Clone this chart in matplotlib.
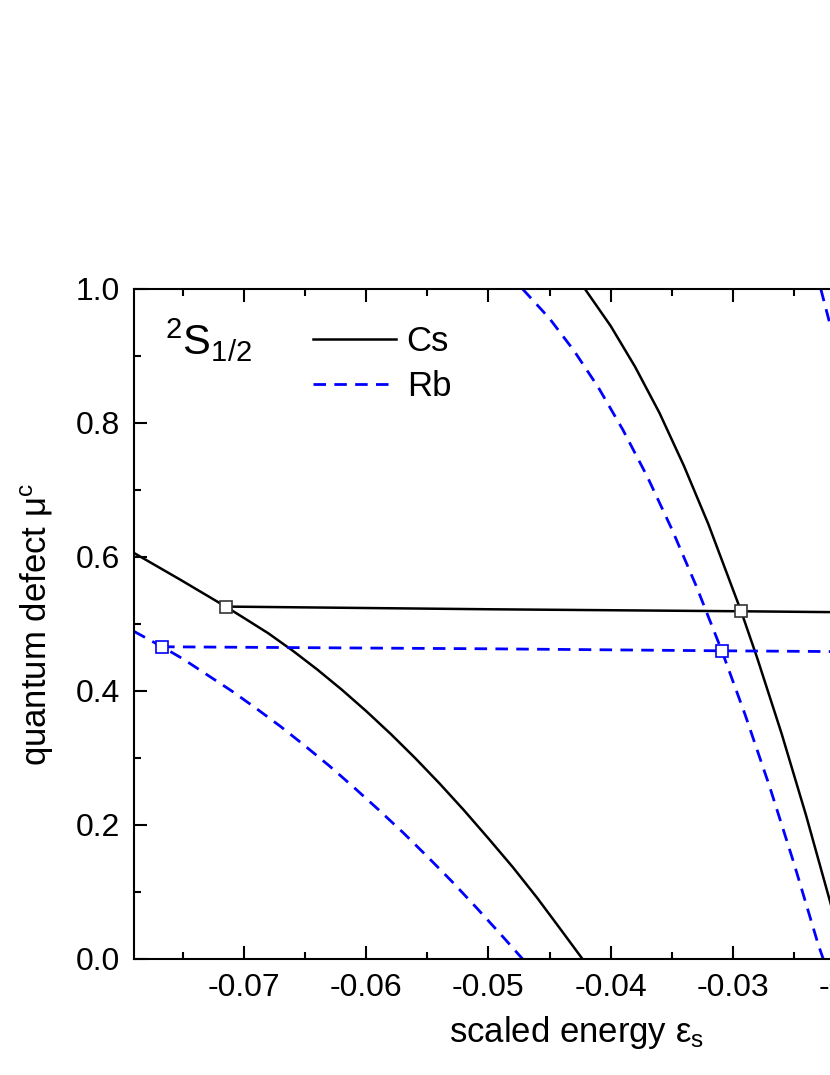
import matplotlib
matplotlib.use('Agg')
import matplotlib.pyplot as plt

plt.rcParams['font.family'] = ['Liberation Sans', 'DejaVu Sans']
plt.rcParams['mathtext.fontset'] = 'custom'
plt.rcParams['mathtext.rm'] = 'Liberation Sans'
plt.rcParams['mathtext.it'] = 'Liberation Sans:italic'
plt.rcParams['axes.unicode_minus'] = False
plt.rcParams['lines.scale_dashes'] = False

# Cs branches (scaled energy, quantum defect)
cs_a_x = [-0.079, -0.0752, -0.0715, -0.070, -0.068, -0.066, -0.064, -0.062, -0.060, -0.058, -0.056,
          -0.054, -0.052, -0.050, -0.048, -0.046, -0.044, -0.0423]
cs_a_mu = [0.606, 0.566, 0.526, 0.509, 0.486, 0.460, 0.432, 0.402, 0.370, 0.336, 0.300,
           0.262, 0.222, 0.180, 0.137, 0.091, 0.042, 0.0]
cs_b_x = [-0.0421, -0.040, -0.038, -0.036, -0.034, -0.032, -0.0293, -0.028, -0.026, -0.024, -0.022, -0.0208]
cs_b_mu = [1.0, 0.945, 0.884, 0.815, 0.736, 0.649, 0.518, 0.449, 0.336, 0.214, 0.083, 0.0]
cs_flat_x = [-0.0715, -0.050, -0.0293, -0.0065]
cs_flat_mu = [0.526, 0.522, 0.519, 0.515]
cs_mark_x = [-0.0715, -0.0293]
cs_mark_mu = [0.526, 0.519]

# Rb branches
rb_a_x = [-0.079, -0.0767, -0.075, -0.073, -0.071, -0.069, -0.067, -0.065, -0.063, -0.061, -0.059,
          -0.057, -0.055, -0.053, -0.051, -0.049, -0.0472]
rb_a_mu = [0.489, 0.466, 0.448, 0.424, 0.400, 0.374, 0.347, 0.318, 0.288, 0.256, 0.223,
           0.189, 0.153, 0.116, 0.077, 0.037, 0.0]
rb_b_x = [-0.0472, -0.045, -0.043, -0.041, -0.039, -0.037, -0.035, -0.033, -0.0309, -0.029, -0.027,
          -0.025, -0.023, -0.0226]
rb_b_mu = [1.0, 0.956, 0.908, 0.853, 0.790, 0.720, 0.642, 0.557, 0.460, 0.365, 0.258,
           0.143, 0.021, 0.0]
rb_c_x = [-0.0228, -0.0221, -0.0212, -0.0200]
rb_c_mu = [1.0, 0.951, 0.89, 0.81]
rb_flat_x = [-0.0767, -0.050, -0.0309, -0.0065]
rb_flat_mu = [0.466, 0.463, 0.460, 0.457]
rb_mark_x = [-0.0767, -0.0309]
rb_mark_mu = [0.466, 0.460]

fig = plt.figure(figsize=(8.3, 10.75), dpi=100)
ax = fig.add_axes([134 / 830, 116 / 1075, 886 / 830, 670 / 1075])

blk = dict(color='black', lw=1.8)
blu = dict(color='#0000ff', lw=2.0, dashes=(9, 6))

ax.plot(cs_a_x, cs_a_mu, label='Cs', **blk)
ax.plot(cs_b_x, cs_b_mu, **blk)
ax.plot(cs_flat_x, cs_flat_mu, **blk)
ax.plot(rb_a_x, rb_a_mu, label='Rb', **blu)
ax.plot(rb_b_x, rb_b_mu, **blu)
ax.plot(rb_c_x, rb_c_mu, **blu)
ax.plot(rb_flat_x, rb_flat_mu, **blu)

ax.plot(cs_mark_x, cs_mark_mu, ls='none', marker='s', ms=9, mfc='white', mec='#333333', mew=1.2, zorder=5)
ax.plot(rb_mark_x, rb_mark_mu, ls='none', marker='s', ms=9, mfc='white', mec='#0000ff', mew=1.2, zorder=5)

ax.set_xlim(-0.079, -0.0065)
ax.set_ylim(0, 1.0)
ax.set_xticks([-0.07, -0.06, -0.05, -0.04, -0.03, -0.02, -0.01])
ax.set_xticks([-0.075, -0.065, -0.055, -0.045, -0.035, -0.025, -0.015], minor=True)
ax.set_yticks([0.0, 0.2, 0.4, 0.6, 0.8, 1.0])
ax.set_yticks([0.1, 0.3, 0.5, 0.7, 0.9], minor=True)
ax.set_xticklabels(['-0.07', '-0.06', '-0.05', '-0.04', '-0.03', '-0.02', '-0.01'])
ax.set_yticklabels(['0.0', '0.2', '0.4', '0.6', '0.8', '1.0'])

ax.tick_params(which='both', direction='in', top=True, right=True, width=1.5, labelsize=23, pad=10)
ax.tick_params(which='major', length=9.5)
ax.tick_params(which='minor', length=5)
for s in ax.spines.values():
    s.set_linewidth(1.5)

ax.set_xlabel('scaled energy ε$_{\\mathrm{s}}$', fontsize=25, labelpad=8)
ax.set_ylabel('quantum defect μ$^{\\mathrm{c}}$', fontsize=25, labelpad=14)

ax.text(-0.0765, 0.901, '$^{2}$S$_{1/2}$', fontsize=30, ha='left', va='baseline')

ax.legend(loc='upper left', bbox_to_anchor=(313 / 830, 1 - 325 / 1075), bbox_transform=fig.transFigure,
          frameon=False, fontsize=25, handlelength=2.4, handletextpad=0.3, borderpad=0,
          borderaxespad=0, labelspacing=0.35)

fig.savefig('out.png', dpi=100)
